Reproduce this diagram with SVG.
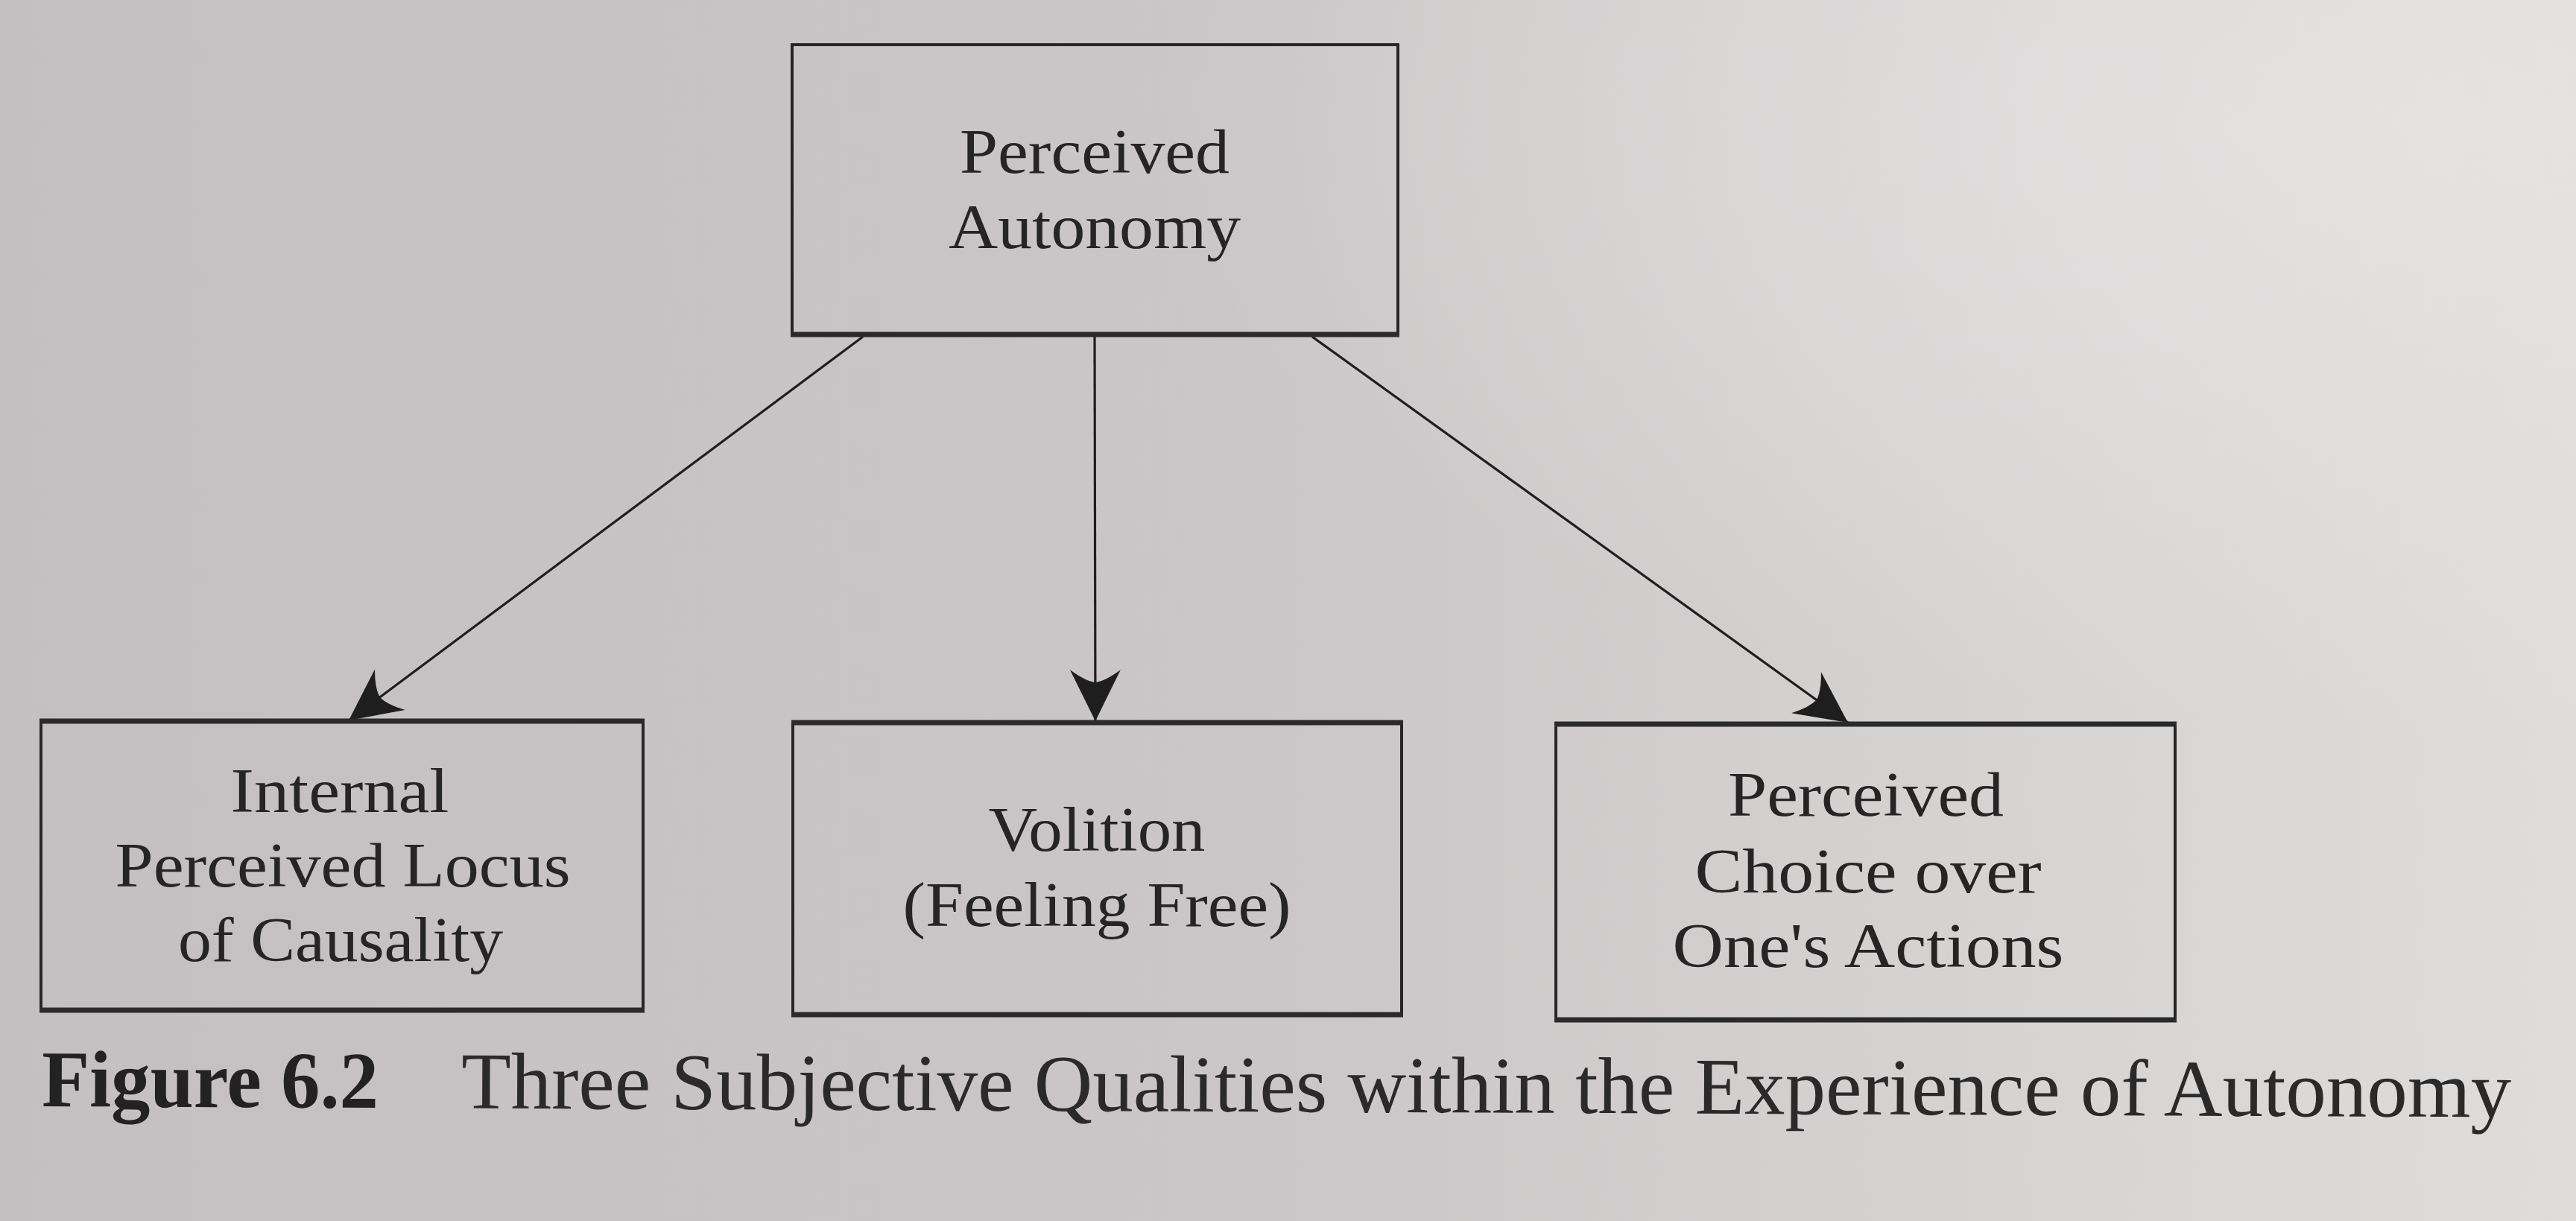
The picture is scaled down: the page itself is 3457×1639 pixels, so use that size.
<svg xmlns="http://www.w3.org/2000/svg" width="3457" height="1639" viewBox="0 0 3457 1639">
  <defs>
    <linearGradient id="bg" x1="0" y1="0" x2="1" y2="0">
      <stop offset="0" stop-color="#c4c0c1"/>
      <stop offset="0.5" stop-color="#cbc7c8"/>
      <stop offset="1" stop-color="#dfdddc"/>
    </linearGradient>
    <radialGradient id="glow" cx="0.95" cy="0.1" r="0.5">
      <stop offset="0" stop-color="#e6e5e4" stop-opacity="0.8"/>
      <stop offset="1" stop-color="#e6e5e4" stop-opacity="0"/>
    </radialGradient>
    <marker id="arrow" markerUnits="userSpaceOnUse" markerWidth="72" markerHeight="72" viewBox="0 0 72 72" refX="70" refY="36" orient="auto">
      <path d="M70 36 L1 2 Q16 22 18 36 Q16 50 1 70 Z" fill="#1e1e1e"/>
    </marker>
    <style>
      .box { fill: none; stroke: #262626; stroke-width: 4; }
      .edge { stroke: #2a2a2a; stroke-width: 7; }
      .lbl { font-family: "Liberation Serif", "Times New Roman", serif; font-size: 84px; fill: #252525; text-anchor: middle; }
      .cap { font-family: "Liberation Serif", "Times New Roman", serif; font-size: 108px; fill: #2a2a2a; }
      .capb { font-weight: bold; fill: #222; }
      .conn { stroke: #1e1e1e; stroke-width: 3.2; fill: none; marker-end: url(#arrow); }
    </style>
  </defs>
  <rect x="0" y="0" width="3457" height="1639" fill="url(#bg)"/>
  <rect x="0" y="0" width="3457" height="1639" fill="url(#glow)"/>

  <g id="connectors">
    <line class="conn" x1="1158" y1="452" x2="468" y2="967"/>
    <line class="conn" x1="1469" y1="452" x2="1470" y2="968"/>
    <line class="conn" x1="1761" y1="452" x2="2480" y2="970"/>
  </g>

  <g id="node-perceived-autonomy">
    <rect class="box" x="1063" y="60" width="813" height="389"/>
    <line class="edge" x1="1061" y1="449" x2="1878" y2="449"/>
    <text class="lbl" x="1469" y="232" textLength="362" lengthAdjust="spacingAndGlyphs">Perceived</text>
    <text class="lbl" x="1469" y="333" textLength="392" lengthAdjust="spacingAndGlyphs">Autonomy</text>
  </g>

  <g id="node-internal-locus">
    <rect class="box" x="55" y="968" width="808" height="388"/>
    <line class="edge" x1="53" y1="968" x2="865" y2="968"/>
    <line class="edge" x1="53" y1="1356" x2="865" y2="1356"/>
    <text class="lbl" x="456" y="1090" textLength="293" lengthAdjust="spacingAndGlyphs">Internal</text>
    <text class="lbl" x="460" y="1190" textLength="611" lengthAdjust="spacingAndGlyphs">Perceived Locus</text>
    <text class="lbl" x="457" y="1290" textLength="436" lengthAdjust="spacingAndGlyphs">of Causality</text>
  </g>

  <g id="node-volition">
    <rect class="box" x="1064" y="970" width="817" height="392"/>
    <line class="edge" x1="1062" y1="970" x2="1883" y2="970"/>
    <line class="edge" x1="1062" y1="1362" x2="1883" y2="1362"/>
    <text class="lbl" x="1472" y="1142" textLength="291" lengthAdjust="spacingAndGlyphs">Volition</text>
    <text class="lbl" x="1472" y="1243" textLength="521" lengthAdjust="spacingAndGlyphs">(Feeling Free)</text>
  </g>

  <g id="node-perceived-choice">
    <rect class="box" x="2088" y="972" width="831" height="397"/>
    <line class="edge" x1="2086" y1="972" x2="2921" y2="972"/>
    <line class="edge" x1="2086" y1="1369" x2="2921" y2="1369"/>
    <text class="lbl" x="2504" y="1095" textLength="370" lengthAdjust="spacingAndGlyphs">Perceived</text>
    <text class="lbl" x="2507" y="1198" textLength="465" lengthAdjust="spacingAndGlyphs">Choice over</text>
    <text class="lbl" x="2507" y="1298" textLength="525" lengthAdjust="spacingAndGlyphs">One's Actions</text>
  </g>

  <g id="caption" transform="rotate(0.25 56 1485)">
    <text class="cap capb" x="56" y="1485" textLength="452" lengthAdjust="spacingAndGlyphs">Figure 6.2</text>
    <text class="cap" x="619" y="1485" textLength="2751" lengthAdjust="spacingAndGlyphs">Three Subjective Qualities within the Experience of Autonomy</text>
  </g>
</svg>
